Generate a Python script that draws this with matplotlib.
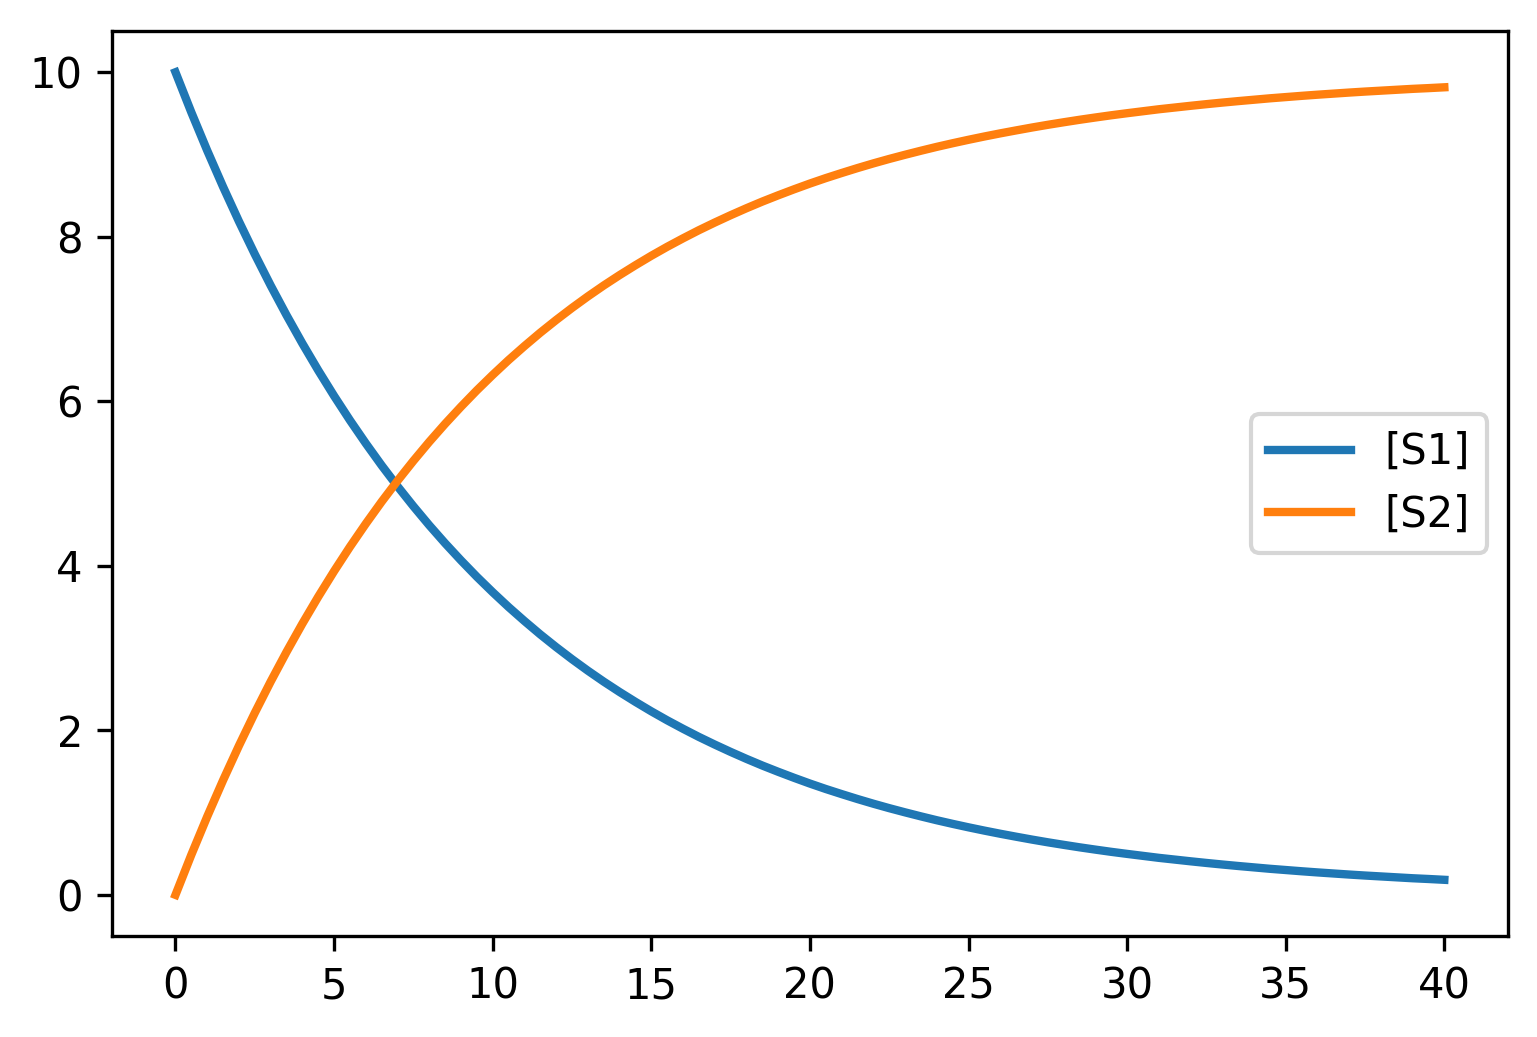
import matplotlib
matplotlib.use('Agg')
import matplotlib.pyplot as plt

# time points (every 0.5) and concentrations
t = [0, 0.5, 1, 1.5, 2, 2.5, 3, 3.5, 4, 4.5, 5, 5.5, 6, 6.5, 7, 7.5, 8, 8.5, 9, 9.5,
     10, 10.5, 11, 11.5, 12, 12.5, 13, 13.5, 14, 14.5, 15, 15.5, 16, 16.5, 17, 17.5,
     18, 18.5, 19, 19.5, 20, 20.5, 21, 21.5, 22, 22.5, 23, 23.5, 24, 24.5, 25, 25.5,
     26, 26.5, 27, 27.5, 28, 28.5, 29, 29.5, 30, 30.5, 31, 31.5, 32, 32.5, 33, 33.5,
     34, 34.5, 35, 35.5, 36, 36.5, 37, 37.5, 38, 38.5, 39, 39.5, 40]
s1 = [10.000, 9.512, 9.048, 8.607, 8.187, 7.788, 7.408, 7.047, 6.703, 6.376,
      6.065, 5.769, 5.488, 5.220, 4.966, 4.724, 4.493, 4.274, 4.066, 3.867,
      3.679, 3.499, 3.329, 3.166, 3.012, 2.865, 2.725, 2.592, 2.466, 2.346,
      2.231, 2.122, 2.019, 1.920, 1.827, 1.738, 1.653, 1.572, 1.496, 1.423,
      1.353, 1.287, 1.225, 1.165, 1.108, 1.054, 1.003, 0.954, 0.907, 0.863,
      0.821, 0.781, 0.743, 0.707, 0.672, 0.639, 0.608, 0.578, 0.550, 0.523,
      0.498, 0.474, 0.450, 0.429, 0.408, 0.388, 0.369, 0.351, 0.334, 0.317,
      0.302, 0.287, 0.273, 0.260, 0.247, 0.235, 0.224, 0.213, 0.202, 0.193,
      0.183]
s2 = [0.000, 0.488, 0.952, 1.393, 1.813, 2.212, 2.592, 2.953, 3.297, 3.624,
      3.935, 4.231, 4.512, 4.780, 5.034, 5.276, 5.507, 5.726, 5.934, 6.133,
      6.321, 6.501, 6.671, 6.834, 6.988, 7.135, 7.275, 7.408, 7.534, 7.654,
      7.769, 7.878, 7.981, 8.080, 8.173, 8.262, 8.347, 8.428, 8.504, 8.577,
      8.647, 8.713, 8.775, 8.835, 8.892, 8.946, 8.997, 9.046, 9.093, 9.137,
      9.179, 9.219, 9.257, 9.293, 9.328, 9.361, 9.392, 9.422, 9.450, 9.477,
      9.502, 9.526, 9.550, 9.571, 9.592, 9.612, 9.631, 9.649, 9.666, 9.683,
      9.698, 9.713, 9.727, 9.740, 9.753, 9.765, 9.776, 9.787, 9.798, 9.807,
      9.817]

dpi = 300
fig = plt.figure(figsize=(1537 / dpi, 1037 / dpi), dpi=dpi)
ax = fig.add_subplot(111)
fig.subplots_adjust(left=0.0729, right=0.981, top=0.970, bottom=0.0974)

ax.plot(t, s1, label='[S1]', color='#1f77b4', linewidth=2)
ax.plot(t, s2, label='[S2]', color='#ff7f0e', linewidth=2)
ax.legend(loc='center right')

fig.savefig('out.png', dpi=dpi)
